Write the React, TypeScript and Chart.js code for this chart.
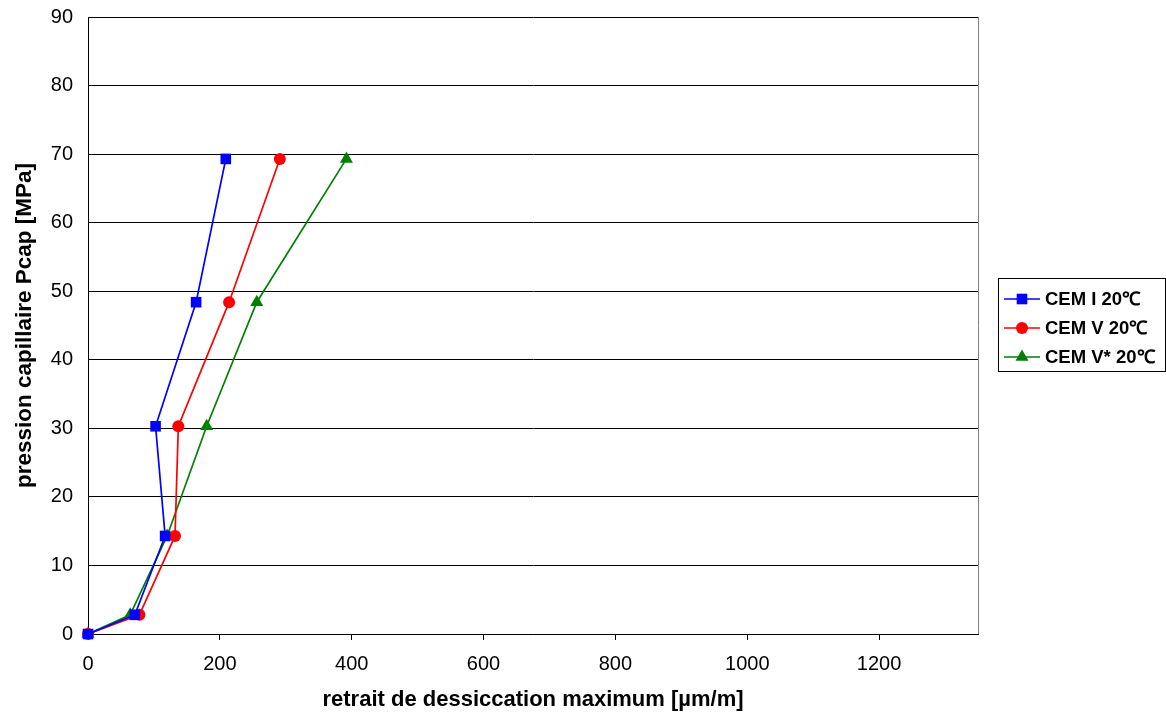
import React, { useEffect, useRef } from "react";
import { Chart, registerables } from "chart.js";

Chart.register(...registerables);

const pressure = [0, 2.8, 14.3, 30.3, 48.4, 69.3];
const cemI = [0, 71, 117, 102.5, 164, 209];
const cemV = [0, 78, 132, 137, 214, 291];
const cemVStar = [0, 64, 120, 180, 256, 392];

const seriesNames = ["CEM I 20℃", "CEM V 20℃", "CEM V* 20℃"];
const seriesColors = ["#0000FF", "#FF0000", "#008000"];
const seriesStyles = ["rect", "circle", "triangle"];
const seriesRadius = [7.5, 6, 7.5];
const seriesX = [cemI, cemV, cemVStar];

const xTickValues = [0, 200, 400, 600, 800, 1000, 1200];

const xTitle = "retrait de dessiccation maximum [µm/m]";
const yTitle = "pression capillaire Pcap [MPa]";

const FONT = "'Liberation Sans', Arial, sans-serif";

function drawMarker(ctx: CanvasRenderingContext2D, style: string, r: number, x: number, y: number) {
  ctx.beginPath();
  if (style === "rect") {
    const s = Math.SQRT1_2 * r;
    ctx.rect(x - s, y - s, 2 * s, 2 * s);
  } else if (style === "circle") {
    ctx.arc(x, y, r, 0, Math.PI * 2);
  } else {
    const w = (r * Math.sqrt(3)) / 2;
    ctx.moveTo(x, y - r);
    ctx.lineTo(x + w, y + r / 2);
    ctx.lineTo(x - w, y + r / 2);
    ctx.closePath();
  }
  ctx.fill();
}

const framePlugin = {
  id: "frame",
  afterDraw(chart: any) {
    const { ctx, chartArea } = chart;
    ctx.save();
    ctx.strokeStyle = "#808080";
    ctx.lineWidth = 1;
    ctx.beginPath();
    ctx.moveTo(chartArea.right + 0.5, chartArea.top);
    ctx.lineTo(chartArea.right + 0.5, chartArea.bottom);
    ctx.stroke();

    // legend box
    const bx = 998.5, by = 278.5, bw = 167, bh = 93;
    ctx.strokeStyle = "#000";
    ctx.lineWidth = 1;
    ctx.strokeRect(bx, by, bw, bh);
    const rows = [299, 328, 357];
    chart.data.datasets.forEach((ds: any, i: number) => {
      const y = rows[i];
      ctx.strokeStyle = ds.borderColor;
      ctx.lineWidth = 1.7;
      ctx.beginPath();
      ctx.moveTo(1004, y);
      ctx.lineTo(1040, y);
      ctx.stroke();
      ctx.fillStyle = ds.borderColor;
      drawMarker(ctx, ds.pointStyle, ds.pointRadius, 1022, y);
      ctx.fillStyle = "#000";
      ctx.font = `bold 18.5px ${FONT}`;
      ctx.textBaseline = "middle";
      ctx.textAlign = "left";
      ctx.fillText(ds.label, 1045, y + 1);
    });
    ctx.restore();
  },
};

export default function App() {
  const ref = useRef<HTMLCanvasElement>(null);
  useEffect(() => {
    if (!ref.current) return;
    const chart = new Chart(ref.current, {
      type: "line",
      data: {
        datasets: seriesX.map((xs, i) => ({
          label: seriesNames[i],
          data: xs.map((x, j) => ({ x, y: pressure[j] })),
          borderColor: seriesColors[i],
          backgroundColor: seriesColors[i],
          pointBackgroundColor: seriesColors[i],
          pointBorderColor: seriesColors[i],
          pointStyle: seriesStyles[i] as any,
          pointRadius: seriesRadius[i],
          pointBorderWidth: 0,
          borderWidth: 1.7,
          tension: 0,
          clip: false as any,
        })),
      },
      options: {
        animation: false,
        responsive: false,
        maintainAspectRatio: false,
        layout: { padding: { left: 0, top: 17, right: 188, bottom: 0 } },
        plugins: { legend: { display: false }, tooltip: { enabled: false } },
        scales: {
          x: {
            type: "linear",
            min: 0,
            max: 1350,
            afterBuildTicks: (axis: any) => {
              axis.ticks = xTickValues.map((v) => ({ value: v }));
            },
            afterFit: (s: any) => {
              s.height = 79;
              s.paddingLeft = 0;
              s.paddingRight = 0;
            },
            grid: { drawOnChartArea: false, drawTicks: true, tickLength: 6, color: "#000" },
            border: { display: true, color: "#000", width: 1 },
            ticks: {
              color: "#000",
              font: { family: FONT, size: 20 },
              padding: 12,
              maxRotation: 0,
              callback: (v: any) => String(v),
            },
            title: {
              display: true,
              text: xTitle,
              color: "#000",
              font: { family: FONT, size: 22, weight: "bold" },
              padding: 0,
            },
          },
          y: {
            type: "linear",
            min: 0,
            max: 90,
            afterFit: (s: any) => {
              s.width = 88;
              s.paddingTop = 0;
              s.paddingBottom = 0;
            },
            ticks: {
              stepSize: 10,
              color: "#000",
              font: { family: FONT, size: 20 },
              padding: 15,
              callback: (v: any) => String(v),
            },
            grid: { drawTicks: false, color: "#000" },
            border: { display: true, color: "#000", width: 1 },
            title: {
              display: true,
              text: yTitle,
              color: "#000",
              font: { family: FONT, size: 22.5, weight: "bold" },
              padding: 11,
            },
          },
        },
      },
      plugins: [framePlugin],
    });
    return () => chart.destroy();
  }, []);
  return (
    <div style={{ position: "fixed", left: 0, top: 0, width: 1166, height: 713, background: "#fff" }}>
      <canvas ref={ref} width={1166} height={713} style={{ width: 1166, height: 713 }} />
    </div>
  );
}
